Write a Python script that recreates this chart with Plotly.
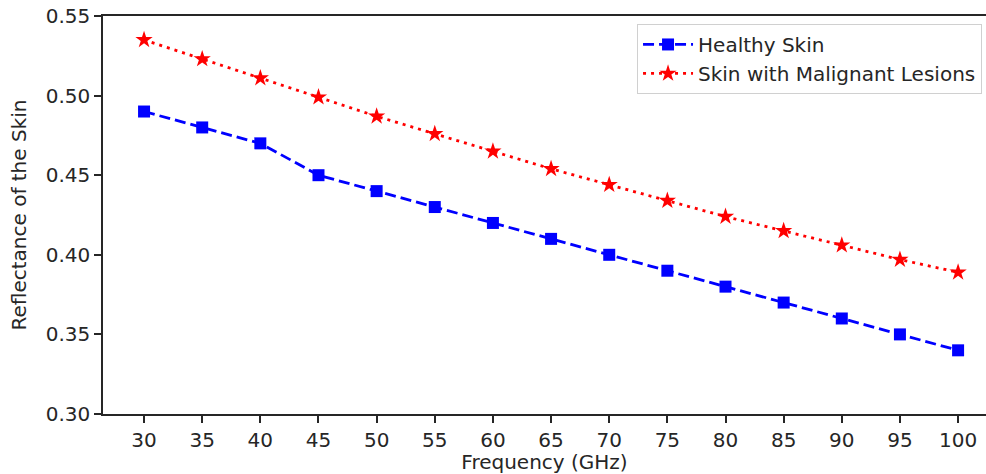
import plotly.graph_objects as go

freq = [30, 35, 40, 45, 50, 55, 60, 65, 70, 75, 80, 85, 90, 95, 100]
healthy = [0.49, 0.48, 0.47, 0.45, 0.44, 0.43, 0.42, 0.41, 0.40, 0.39, 0.38, 0.37, 0.36, 0.35, 0.34]
malignant = [0.535, 0.523, 0.511, 0.499, 0.487, 0.476, 0.465, 0.454, 0.444, 0.434, 0.424, 0.415, 0.406, 0.397, 0.389]
yticks = [0.30, 0.35, 0.40, 0.45, 0.50, 0.55]

fig = go.Figure()
fig.add_trace(go.Scatter(x=freq, y=healthy, mode="lines+markers", name="Healthy Skin",
                         line=dict(color="#0000ff", width=2.8, dash="11px,5px"),
                         marker=dict(symbol="square", size=12, color="#0000ff")))
fig.add_trace(go.Scatter(x=freq, y=malignant, mode="lines+markers", name="Skin with Malignant Lesions",
                         line=dict(color="#ff0000", width=2.8, dash="3px,5px"),
                         marker=dict(symbol="star", size=13, color="#ff0000")))

FS = 20
font = dict(family="DejaVu Sans", size=FS, color="#262626")
fig.update_layout(
    width=986, height=474,
    margin=dict(l=103, r=0, t=16, b=60),
    paper_bgcolor="white", plot_bgcolor="white",
    font=font,
    showlegend=True,
    legend=dict(x=0.6048, y=0.98, xanchor="left", yanchor="top", itemwidth=50,
                bordercolor="#d0d0d0", borderwidth=1, bgcolor="rgba(255,255,255,0.8)",
                font=font, tracegroupgap=0),
    xaxis=dict(range=[26.47, 102.4], tickvals=freq, ticks="outside", ticklen=7, tickwidth=1.5,
               tickcolor="#262626",
               showline=True, linecolor="#262626", linewidth=1.5, mirror=True, showgrid=False,
               zeroline=False, title=dict(text="Frequency (GHz)", standoff=3, font=font), tickfont=font),
    yaxis=dict(range=[0.30, 0.55], tickvals=yticks, tickformat=".2f", ticks="outside", ticklen=7,
               tickwidth=1.5, tickcolor="#262626", showline=True, linecolor="#262626", linewidth=1.5,
               showgrid=False, zeroline=False,
               title=dict(text="Reflectance of the Skin", standoff=14, font=font), tickfont=font),
)
fig.write_html("out.html", config={"displayModeBar": False},
               post_script="document.body.style.margin='0px';document.body.style.overflow='hidden';")
